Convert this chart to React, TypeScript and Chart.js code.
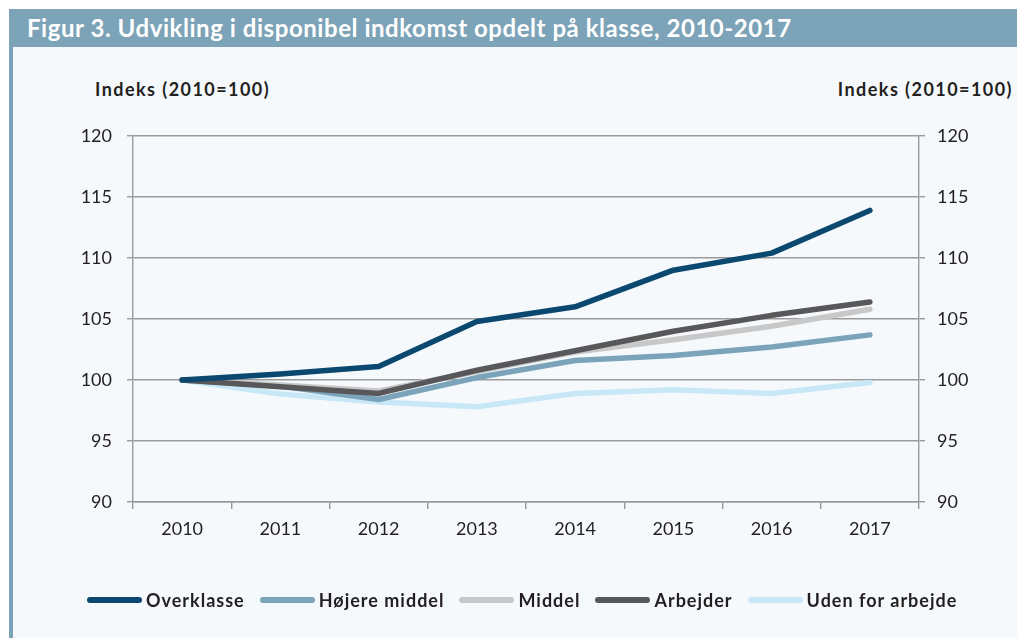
import React, { useEffect, useRef } from "react";
import { Chart, registerables } from "chart.js";

Chart.register(...registerables);

const years = ["2010", "2011", "2012", "2013", "2014", "2015", "2016", "2017"];
const overklasse = [100, 100.5, 101.1, 104.8, 106.0, 109.0, 110.4, 113.9];
const hojereMiddel = [100, 99.5, 98.4, 100.2, 101.6, 102.0, 102.7, 103.7];
const middel = [100, 99.6, 99.1, 100.7, 102.3, 103.3, 104.4, 105.8];
const arbejder = [100, 99.45, 98.9, 100.8, 102.4, 104.0, 105.3, 106.4];
const udenForArbejde = [100, 98.85, 98.2, 97.8, 98.9, 99.2, 98.9, 99.8];

const seriesNames = ["Overklasse", "Højere middel", "Middel", "Arbejder", "Uden for arbejde"];
const seriesColors = ["#0B4870", "#7BA3BA", "#C8C8C8", "#58585A", "#C8E8F7"];
const seriesOrder = [0, 3, 2, 1, 4];

const yMin = 90;
const yMax = 120;
const yStep = 5;

const TITLE = "Figur 3. Udvikling i disponibel indkomst opdelt på klasse, 2010-2017";
const AXIS_TITLE = "Indeks (2010=100)";

const FONT = "Lato, 'Open Sans', sans-serif";
const GRID = "#9a9a9a";
const TEXT = "#231F20";

export default function App() {
  const canvasRef = useRef<HTMLCanvasElement | null>(null);

  useEffect(() => {
    if (!canvasRef.current) return;
    const data = [overklasse, hojereMiddel, middel, arbejder, udenForArbejde];
    const chart = new Chart(canvasRef.current, {
      type: "line",
      data: {
        labels: years,
        datasets: data.map((d, i) => ({
          label: seriesNames[i],
          data: d,
          borderColor: seriesColors[i],
          backgroundColor: seriesColors[i],
          borderWidth: 5.5,
          pointRadius: 0,
          pointHoverRadius: 0,
          borderCapStyle: "round" as const,
          borderJoinStyle: "round" as const,
          tension: 0,
          order: seriesOrder[i],
          yAxisID: "y",
        })),
      },
      options: {
        animation: false,
        responsive: false,
        maintainAspectRatio: false,
        layout: { padding: { top: 136, left: 0, right: 0, bottom: 0 } },
        plugins: {
          legend: { display: false },
          tooltip: { enabled: false },
          title: { display: false },
        },
        scales: {
          x: {
            type: "category",
            offset: true,
            grid: {
              offset: true,
              drawOnChartArea: false,
              drawTicks: true,
              tickLength: 7,
              color: GRID,
              lineWidth: 1.4,
            },
            border: { display: true, color: GRID, width: 1.4 },
            ticks: {
              color: TEXT,
              font: { family: FONT, size: 18 },
              padding: 9,
              maxRotation: 0,
            },
            afterFit: (scale: any) => {
              scale.height = 136;
            },
          },
          y: {
            type: "linear",
            position: "left",
            min: yMin,
            max: yMax,
            ticks: {
              stepSize: yStep,
              color: TEXT,
              font: { family: FONT, size: 18 },
              padding: 15,
            },
            grid: {
              color: GRID,
              lineWidth: 1.4,
              drawTicks: true,
              tickLength: 6,
            },
            border: { display: true, color: GRID, width: 1.4 },
            afterFit: (scale: any) => {
              scale.width = 133;
            },
          },
          y2: {
            type: "linear",
            position: "right",
            min: yMin,
            max: yMax,
            ticks: {
              stepSize: yStep,
              color: TEXT,
              font: { family: FONT, size: 18 },
              padding: 12,
            },
            grid: {
              color: GRID,
              lineWidth: 1.4,
              drawOnChartArea: false,
              drawTicks: true,
              tickLength: 6,
            },
            border: { display: true, color: GRID, width: 1.4 },
            afterFit: (scale: any) => {
              scale.width = 98;
            },
          },
        },
      },
    });
    return () => chart.destroy();
  }, []);

  return (
    <div
      style={{
        position: "fixed",
        left: 0,
        top: 0,
        width: 1017,
        height: 638,
        background: "#FFFFFF",
        overflow: "hidden",
        fontFamily: FONT,
      }}
    >
      <div
        style={{
          position: "absolute",
          left: 9,
          top: 9,
          width: 1008,
          height: 38,
          background: "#7CA3B7",
          color: "#FFFFFF",
          fontWeight: 700,
          fontSize: 24,
          letterSpacing: 0.55,
          lineHeight: "38px",
          paddingLeft: 18,
          boxSizing: "border-box",
          whiteSpace: "nowrap",
        }}
      >
        {TITLE}
      </div>
      <div
        style={{
          position: "absolute",
          left: 9,
          top: 47,
          width: 1008,
          height: 591,
          background: "#F5F9FC",
          borderLeft: "4px solid #7CA3B7",
          boxSizing: "border-box",
        }}
      />
      <div
        style={{
          position: "absolute",
          left: 95,
          top: 78,
          fontWeight: 700,
          fontSize: 18,
          letterSpacing: 1.45,
          color: TEXT,
          whiteSpace: "nowrap",
        }}
      >
        {AXIS_TITLE}
      </div>
      <div
        style={{
          position: "absolute",
          right: 4,
          top: 78,
          fontWeight: 700,
          fontSize: 18,
          letterSpacing: 1.45,
          color: TEXT,
          whiteSpace: "nowrap",
        }}
      >
        {AXIS_TITLE}
      </div>
      <canvas
        ref={canvasRef}
        width={1017}
        height={638}
        style={{ position: "absolute", left: 0, top: 0, width: 1017, height: 638 }}
      />
      <div
        style={{
          position: "absolute",
          left: 87,
          top: 588,
          display: "flex",
          alignItems: "center",
          gap: 15,
          whiteSpace: "nowrap",
        }}
      >
        {seriesNames.map((name, i) => (
          <div key={name} style={{ display: "flex", alignItems: "center" }}>
            <span
              style={{
                display: "inline-block",
                width: 55,
                height: 6,
                borderRadius: 3,
                background: seriesColors[i],
                marginRight: 4,
              }}
            />
            <span
              style={{
                fontWeight: 700,
                fontSize: 18,
                letterSpacing: 1,
                color: TEXT,
                lineHeight: "24px",
              }}
            >
              {name}
            </span>
          </div>
        ))}
      </div>
    </div>
  );
}
